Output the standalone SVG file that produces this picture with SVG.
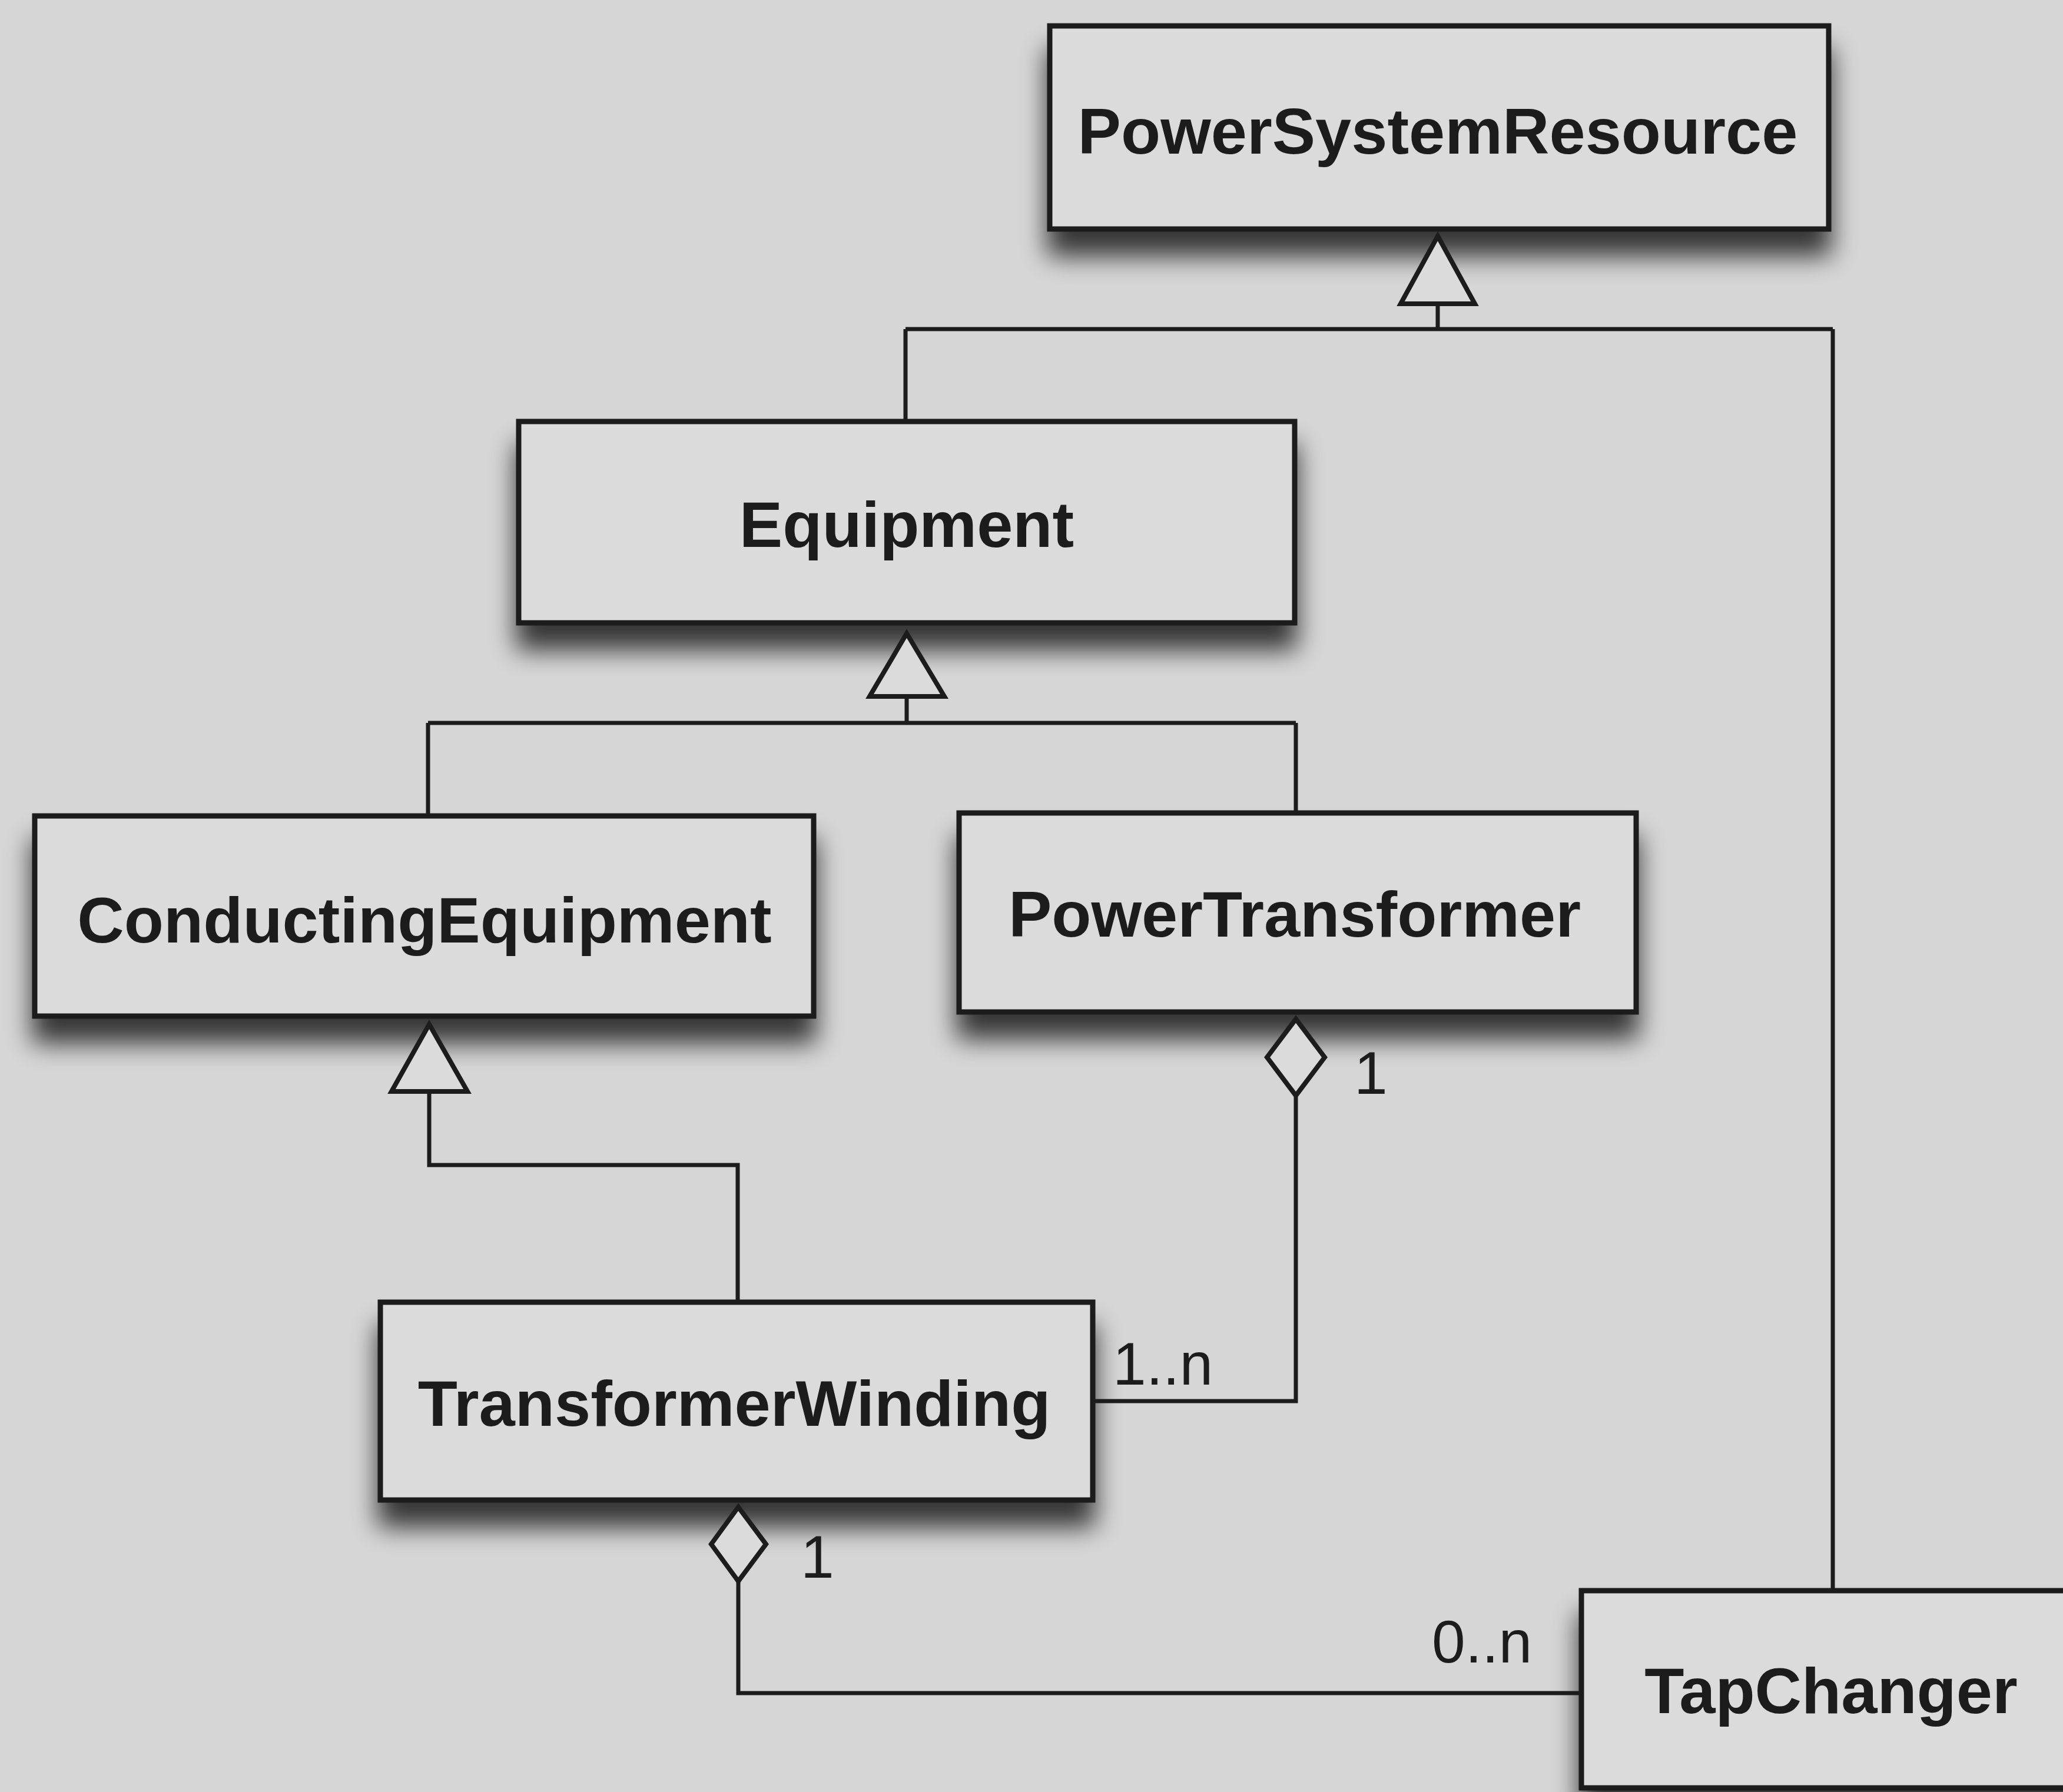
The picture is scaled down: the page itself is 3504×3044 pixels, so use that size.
<svg xmlns="http://www.w3.org/2000/svg" width="3504" height="3044" viewBox="0 0 3504 3044">
  <style>
    .box { fill: #dbdbdb; stroke: #1c1c1c; stroke-width: 9; filter: url(#shadow); }
    .name { font-family: "Liberation Sans", Arial, sans-serif; font-weight: bold; font-size: 110px; fill: #1c1c1c; text-anchor: middle; }
    .mult { font-family: "Liberation Sans", Arial, sans-serif; font-size: 102px; fill: #1c1c1c; }
    .line { fill: none; stroke: #1c1c1c; stroke-width: 7; }
    .head { fill: #dbdbdb; stroke: #1c1c1c; stroke-width: 8; stroke-linejoin: miter; }
  </style>
  <defs>
    <!-- soft drop shadow falling below each class box -->
    <filter id="shadow" x="-10%" y="-20%" width="120%" height="170%">
      <feGaussianBlur in="SourceAlpha" stdDeviation="22" result="blur"/>
      <feOffset in="blur" dx="0" dy="42" result="off"/>
      <feComponentTransfer in="off" result="soft">
        <feFuncA type="linear" slope="0.75"/>
      </feComponentTransfer>
      <feMerge>
        <feMergeNode in="soft"/>
        <feMergeNode in="SourceGraphic"/>
      </feMerge>
    </filter>
  </defs>

  <rect x="0" y="0" width="3504" height="3044" fill="#d6d6d6"/>

  <!-- class boxes -->
  <g id="PowerSystemResource">
    <rect class="box" x="1783" y="44" width="1323" height="345"/>
    <text class="name" x="2442" y="261">PowerSystemResource</text>
  </g>
  <g id="Equipment">
    <rect class="box" x="881" y="716" width="1318" height="342"/>
    <text class="name" x="1540" y="929">Equipment</text>
  </g>
  <g id="ConductingEquipment">
    <rect class="box" x="59" y="1386" width="1323" height="340"/>
    <text class="name" x="721" y="1601">ConductingEquipment</text>
  </g>
  <g id="PowerTransformer">
    <rect class="box" x="1629" y="1381" width="1150" height="338"/>
    <text class="name" x="2199" y="1591">PowerTransformer</text>
  </g>
  <g id="TransformerWinding">
    <rect class="box" x="646" y="2212" width="1210" height="336"/>
    <text class="name" x="1247" y="2422">TransformerWinding</text>
  </g>
  <g id="TapChanger">
    <rect class="box" x="2686" y="2702" width="900" height="335"/>
    <text class="name" x="3110" y="2910">TapChanger</text>
  </g>

  <!-- connectors -->
  <g id="connectors">
    <!-- generalization to PowerSystemResource -->
    <path class="line" d="M2442 516 V559 M1538 559 H3113 M1538 559 V716 M3113 559 V2702"/>
    <polygon class="head" points="2442,401 2505,516 2379,516"/>

    <!-- generalization to Equipment -->
    <path class="line" d="M1540 1183 V1228 M727 1228 H2201 M727 1228 V1386 M2201 1228 V1381"/>
    <polygon class="head" points="1540,1076 1604,1183 1477,1183"/>

    <!-- generalization to ConductingEquipment -->
    <path class="line" d="M729 1854 V1979 H1253 V2212"/>
    <polygon class="head" points="729,1740 794,1854 665,1854"/>

    <!-- aggregation PowerTransformer - TransformerWinding -->
    <path class="line" d="M2201 1861 V2380 H1856"/>
    <polygon class="head" points="2201,1731 2250,1796 2201,1861 2152,1796"/>

    <!-- aggregation TransformerWinding - TapChanger -->
    <path class="line" d="M1254 2686 V2876 H2686"/>
    <polygon class="head" points="1254,2560 1301,2623 1254,2686 1208,2623"/>

    <!-- multiplicities -->
    <text class="mult" x="2300" y="1858">1</text>
    <text class="mult" x="1890" y="2352">1..n</text>
    <text class="mult" x="1360" y="2680">1</text>
    <text class="mult" x="2432" y="2824">0..n</text>
  </g>
</svg>
